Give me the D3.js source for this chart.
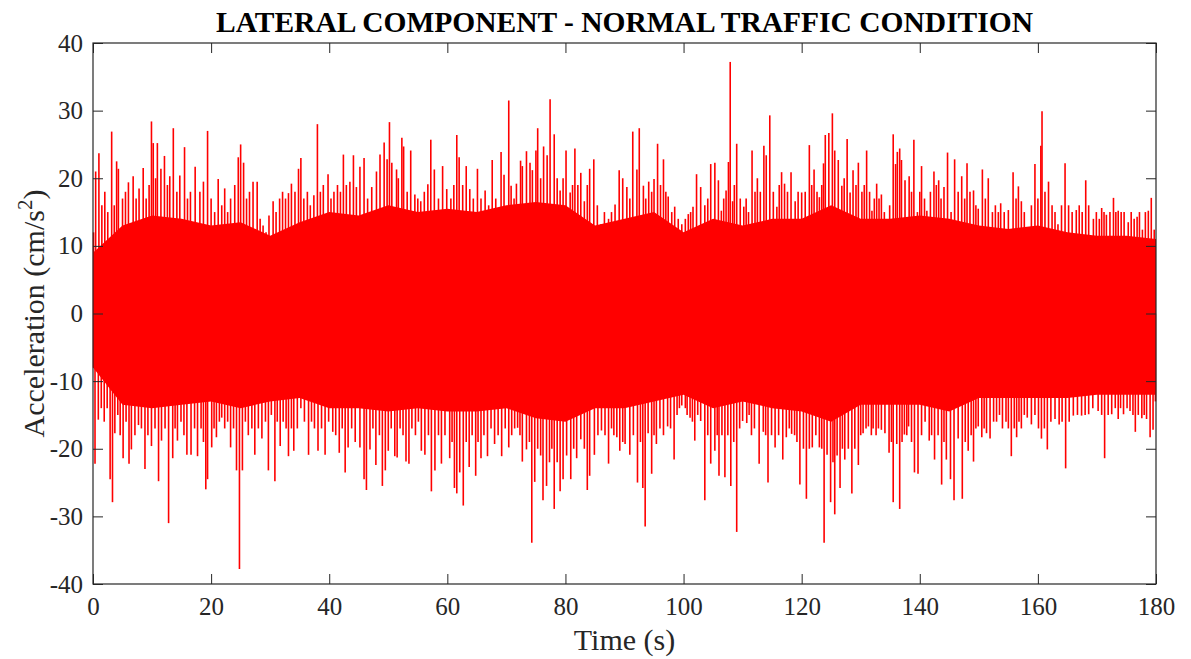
<!DOCTYPE html>
<html>
<head>
<meta charset="utf-8">
<script src="https://cdn.jsdelivr.net/npm/d3@7"></script>
<style>
  body { margin: 0; background: #fff; }
  svg { display: block; font-family: "Liberation Serif", "Times New Roman", serif; }
</style>
</head>
<body>
<div id="chart"></div>
<script>
// values
const xTicks = [0, 20, 40, 60, 80, 100, 120, 140, 160, 180];
const yTicks = [-40, -30, -20, -10, 0, 10, 20, 30, 40];

// solid body of the record, every 5 s
const bodyTimes = [0, 5, 10, 15, 20, 25, 30, 35, 40, 45, 50, 55, 60, 65, 70, 75, 80, 85, 90,
  95, 100, 105, 110, 115, 120, 125, 130, 135, 140, 145, 150, 155, 160, 165, 170, 175, 180];
const bodyTop = [9, 13, 14.5, 14, 13, 13.5, 11.5, 13.5, 15, 14.5, 16, 15, 15.5, 15, 16, 16.5, 16, 13, 14,
  15, 12, 14, 13, 14, 14, 16, 14, 14, 14.5, 14, 13, 12.5, 13, 12, 11.5, 11.5, 11];
const bodyBottom = [-8, -13.5, -14, -13.5, -13, -14, -13, -12.5, -14, -14, -14.5, -14, -14.5, -14.5, -14, -15.5, -16, -14, -14,
  -13, -12, -14, -13, -14, -14.5, -16, -13.5, -13.5, -13.5, -14.5, -12.5, -12.5, -12.5, -12.5, -12, -12, -12];

// positive peaks [t (s), acceleration]
const upperPeaks = [[0.1, 12], [0.45, 21], [1.0, 23.7], [1.5, 16], [2.0, 18], [2.5, 15], [3.16, 26.9], [3.6, 16], [4.0, 22.5], [4.3, 21.4], [5.0, 17], [5.5, 18], [6.0, 19.4], [6.8, 20.3], [7.3, 17], [7.8, 18.5], [8.5, 21.5], [9.0, 17], [9.5, 19], [9.9, 28.4], [10.2, 25.2], [10.6, 20], [10.9, 25.2], [11.5, 21.4], [12.1, 23.3], [12.6, 19], [13.0, 20.3], [13.6, 27.4], [14.2, 18], [14.7, 20.4], [15.5, 24.6], [16.0, 17], [16.5, 18], [17.3, 21.7], [18.1, 18], [18.7, 19.5], [19.4, 27], [20.0, 17], [20.6, 15], [21.2, 19.9], [21.8, 16], [22.3, 18.5], [22.8, 15], [23.3, 17], [24.0, 19], [24.6, 23.1], [25.0, 25], [25.5, 22.3], [26.0, 17], [26.5, 18], [27.1, 19.5], [27.8, 19.5], [28.3, 14], [28.8, 13], [29.3, 12], [29.8, 14.5], [30.5, 16.6], [31.0, 15], [31.6, 17], [32.1, 18], [32.6, 17], [33.1, 17.8], [33.6, 19.2], [34.2, 18], [34.8, 21.4], [35.2, 23], [35.7, 17], [36.3, 18], [36.8, 16], [37.4, 17.5], [38.0, 28], [38.5, 18], [39.0, 19], [39.8, 20.6], [40.3, 17], [40.8, 18], [41.4, 19], [41.9, 18], [42.4, 23.5], [42.9, 19], [43.5, 19.5], [44.1, 23.4], [44.6, 18.7], [45.2, 21.7], [45.9, 23], [46.5, 17], [47.2, 18.7], [48.0, 21], [48.6, 23.5], [49.3, 25.3], [49.8, 22.8], [50.2, 28.3], [50.6, 22.3], [51.4, 21.3], [51.7, 20], [52.3, 26], [52.6, 24.7], [53.2, 18], [53.8, 24.1], [54.5, 17.6], [55.0, 17], [55.5, 16.6], [56.1, 18], [56.7, 19.1], [57.2, 25.7], [57.8, 21.3], [58.5, 17], [59.2, 21.8], [59.9, 18.4], [60.6, 17], [61.1, 19], [61.6, 26.4], [62.0, 23.1], [62.6, 19], [63.2, 21.8], [63.8, 18.4], [64.4, 17], [65.1, 21.4], [65.7, 17], [66.4, 18.2], [67.0, 16], [67.6, 22.7], [68.2, 17], [68.7, 15], [69.1, 23.9], [69.6, 20.5], [70.4, 31.5], [70.8, 18.9], [71.3, 17], [71.7, 19.2], [72.4, 22.6], [72.7, 21.8], [73.4, 24], [74.0, 22.3], [74.4, 21.2], [75.0, 24.1], [75.3, 27.4], [75.8, 20], [76.3, 24.7], [76.9, 23.4], [77.4, 31.7], [78.1, 26.5], [78.6, 20], [79.1, 18.2], [79.6, 20], [80.1, 24.1], [80.8, 17.9], [81.2, 19], [81.6, 24.4], [82.1, 19], [82.6, 20.8], [83.2, 16.6], [83.7, 19], [84.1, 21.4], [84.8, 22.8], [85.4, 16], [86.0, 13.2], [86.6, 15], [87.3, 14], [87.8, 15], [88.4, 16.1], [89.1, 21.2], [89.7, 20], [90.4, 18.7], [90.9, 17], [91.4, 26.9], [92.1, 21.3], [92.5, 27.4], [93.2, 18.9], [93.6, 17], [94.1, 19.5], [94.6, 18], [95.0, 19.9], [95.6, 25.1], [96.1, 19], [96.6, 22.8], [97.0, 18], [97.4, 17.3], [98.0, 15], [98.5, 15.8], [99.1, 14], [99.7, 13.2], [100.3, 14], [100.8, 14.7], [101.2, 15], [101.6, 15.8], [102.2, 20.6], [102.9, 18.7], [103.6, 16], [104.1, 17], [104.6, 22.1], [105.3, 22.3], [105.9, 19.7], [106.4, 15.2], [106.8, 17], [107.2, 18.2], [107.6, 22.4], [107.9, 37.2], [108.3, 16.6], [108.6, 19], [109.0, 25.1], [109.6, 17], [110.2, 15.8], [110.6, 17], [111.0, 15], [111.6, 24.1], [112.1, 18], [112.5, 20], [113.0, 18], [113.6, 24.8], [114.0, 23.4], [114.6, 29.3], [115.2, 18], [115.8, 15.8], [116.2, 19], [116.6, 20.9], [117.1, 19.2], [117.6, 18], [118.2, 20.9], [118.9, 16.6], [119.4, 18], [120.0, 17.9], [120.6, 18], [121.3, 24.9], [121.7, 19], [122.1, 21.3], [122.6, 18], [123.0, 17.2], [123.4, 19], [123.7, 22.2], [124.0, 26.4], [124.6, 26.7], [125.2, 29.6], [125.6, 24.1], [126.2, 22.7], [126.8, 18.9], [127.2, 20], [127.7, 25.8], [128.2, 17.9], [128.7, 21.2], [129.2, 19], [129.6, 22.3], [130.2, 18], [130.6, 19], [131.0, 24.1], [131.5, 18], [131.9, 15.2], [132.3, 17], [132.7, 19.2], [133.1, 17], [133.5, 17.6], [134.0, 15], [134.4, 13], [134.9, 16], [135.5, 26.5], [135.9, 22.1], [136.2, 23.9], [136.6, 24.4], [136.9, 22.7], [137.5, 19.7], [138.2, 20.3], [138.6, 18], [139.0, 25.7], [139.6, 15], [140.0, 18], [140.3, 21.8], [140.8, 17], [141.2, 15.2], [141.8, 18], [142.4, 21], [142.8, 19], [143.2, 19.7], [143.6, 17], [144.1, 18.7], [144.7, 23.8], [145.3, 15], [145.9, 22.8], [146.5, 18], [147.1, 20.3], [147.6, 17], [148.0, 22.2], [148.5, 18], [149.1, 18.2], [149.5, 16], [149.9, 15.5], [150.6, 21.3], [151.1, 17], [151.6, 20], [152.3, 15], [152.8, 16], [153.3, 15], [153.7, 16.3], [154.3, 15], [155.0, 15.3], [155.8, 20.9], [156.3, 17], [156.7, 18.8], [157.2, 16.6], [157.7, 15], [158.4, 12.2], [158.9, 16], [159.5, 22.1], [160.0, 17], [160.5, 24.8], [160.7, 29.9], [161.2, 18], [161.8, 19.5], [162.4, 16], [162.9, 15], [163.4, 13.2], [164.0, 16], [164.6, 22.2], [165.2, 16], [165.8, 15], [166.5, 15.3], [167.0, 16], [167.5, 15], [168.1, 19.7], [168.6, 16], [169.4, 14], [169.9, 15], [170.4, 14], [170.8, 15.6], [171.2, 15], [171.6, 14.6], [172.2, 15], [172.8, 17.1], [173.2, 15], [173.6, 15.2], [174.1, 15], [174.6, 15], [175.3, 13.5], [175.8, 15], [176.3, 14], [176.8, 14.3], [177.2, 15], [177.7, 12.4], [178.2, 15], [178.7, 15.2], [179.2, 17.1], [179.7, 12.4]];

// negative peaks [t (s), acceleration]
const lowerPeaks = [[0.1, -8], [0.34, -22.2], [0.9, -15.7], [1.4, -14], [1.9, -16], [2.4, -14], [2.9, -24.5], [3.3, -27.9], [3.7, -17.7], [4.2, -15], [4.6, -18], [5.1, -21.4], [5.6, -16], [6.1, -22.2], [6.5, -20.1], [7.1, -18], [7.7, -16.5], [8.2, -17], [8.8, -23], [9.3, -18], [9.9, -19.6], [10.5, -17], [11.1, -24.8], [11.6, -18.8], [12.2, -17], [12.8, -31], [13.5, -21.4], [13.9, -17], [14.3, -18.8], [14.9, -16], [15.4, -18], [15.9, -20.9], [16.6, -20.9], [17.2, -17], [17.7, -21.1], [18.3, -17], [18.7, -19], [19.1, -26], [19.4, -24.5], [20.1, -19.8], [20.5, -17], [20.9, -18.3], [21.4, -16], [21.8, -15.4], [22.3, -17], [22.8, -16], [23.3, -19.8], [23.8, -17], [24.3, -23.2], [24.8, -37.8], [25.3, -23.2], [25.8, -16], [26.3, -18], [26.9, -17], [27.4, -20.9], [28.0, -17], [28.6, -18.5], [29.2, -16], [29.7, -23.2], [30.2, -15], [30.8, -24.8], [31.2, -16], [31.7, -19.6], [32.2, -16], [32.7, -17], [33.1, -21.1], [33.6, -17], [34.0, -20.3], [34.6, -17], [35.2, -14], [35.8, -16], [36.5, -20.9], [37.0, -16], [37.5, -17], [38.1, -20.3], [38.7, -17], [39.3, -20.9], [39.9, -16], [40.6, -17.5], [41.1, -18], [41.7, -20.6], [42.2, -17], [42.7, -23.5], [43.2, -19.8], [43.8, -17], [44.4, -19], [45.2, -19.8], [45.9, -24.5], [46.3, -26.1], [46.9, -20.1], [47.4, -17], [47.9, -22.4], [48.5, -18], [49.0, -25.5], [49.5, -23.2], [50.0, -20.3], [50.5, -17], [51.1, -21.1], [51.5, -21.3], [52.0, -17], [52.5, -18], [53.0, -21.9], [53.5, -22.2], [54.0, -17], [54.6, -18], [55.1, -16], [55.6, -20.3], [56.2, -20.9], [56.8, -18], [57.3, -26.3], [57.9, -23.2], [58.5, -18], [59.0, -22.2], [59.6, -18], [60.4, -21.4], [60.8, -19], [61.2, -25.8], [61.6, -26.6], [62.1, -23.5], [62.7, -28.4], [63.2, -19], [63.7, -22.7], [64.2, -18], [64.8, -24], [65.2, -19], [65.7, -21.4], [66.2, -18], [66.8, -21.1], [67.4, -17], [68.0, -19.3], [68.6, -18], [69.2, -21.1], [69.8, -17], [70.4, -19.8], [70.9, -18], [71.4, -17], [71.9, -16.9], [72.3, -18], [72.7, -21.9], [73.4, -20.1], [73.9, -19], [74.3, -33.9], [74.8, -24.9], [75.3, -20], [75.8, -21], [76.2, -27.6], [76.8, -25.5], [77.3, -22], [77.7, -20], [78.1, -28.9], [78.6, -22], [79.1, -26.3], [79.6, -24.5], [80.2, -21], [80.9, -24.5], [81.4, -20], [81.9, -21.4], [82.6, -18.6], [83.2, -20], [83.7, -26.1], [84.1, -24], [84.9, -20.9], [85.5, -18], [86.1, -17.3], [86.7, -18], [87.3, -22.2], [87.8, -17], [88.2, -18], [88.7, -18.3], [89.2, -20.3], [89.7, -19], [90.1, -19.3], [90.9, -20.9], [91.5, -18], [92.2, -25], [92.7, -19], [93.1, -25.8], [93.5, -31.5], [94.0, -17.7], [94.6, -23.7], [95.0, -18], [95.4, -19.3], [96.0, -17], [96.6, -18], [97.3, -16.7], [97.8, -17], [98.4, -21.6], [98.9, -15], [99.3, -14], [99.7, -13.6], [100.3, -14], [100.6, -15], [101.1, -15.4], [101.5, -16], [101.9, -18.8], [102.4, -15], [102.9, -15.9], [103.6, -27.6], [104.1, -18], [104.6, -22.2], [105.3, -20.3], [105.7, -18], [106.0, -24], [106.5, -18], [107.0, -24.2], [107.5, -18], [108.0, -25.5], [108.5, -19], [109.0, -32.3], [109.5, -17], [110.0, -15.9], [110.7, -16.2], [111.1, -15], [111.5, -18], [112.0, -17], [112.8, -22.2], [113.5, -17.5], [113.9, -18], [114.3, -25], [114.9, -18], [115.5, -19.8], [116.1, -18], [116.8, -21.6], [117.4, -18.3], [117.9, -17], [118.3, -17.8], [118.8, -18], [119.2, -19], [119.7, -25.3], [120.3, -20], [120.8, -27.4], [121.3, -20], [121.8, -19.8], [122.4, -18], [123.0, -19.8], [123.4, -20], [123.8, -33.9], [124.3, -20.9], [124.9, -27.9], [125.3, -22], [125.6, -29.7], [126.0, -21], [126.5, -25.8], [126.9, -20], [127.3, -21.6], [127.9, -20], [128.5, -26.6], [129.0, -20], [129.6, -22.4], [130.0, -18], [130.4, -17.7], [130.9, -17], [131.3, -16.7], [131.8, -18], [132.1, -17], [132.6, -18], [133.0, -17], [133.5, -17.2], [134.1, -17.7], [134.8, -20.6], [135.2, -19], [135.5, -27.9], [136.1, -19.3], [136.6, -28.9], [137.0, -19], [137.4, -17.9], [137.8, -18], [138.1, -16.7], [138.6, -19], [139.1, -23.5], [139.7, -23.7], [140.3, -18], [140.9, -16], [141.6, -18.8], [142.0, -18], [142.5, -21.6], [143.1, -18], [143.7, -25.3], [144.1, -19], [144.5, -21.6], [145.2, -24.5], [145.8, -27.6], [146.5, -18.5], [147.2, -27.4], [147.7, -19], [148.2, -20.3], [148.7, -18], [149.1, -21.9], [149.5, -17], [149.9, -16.7], [150.5, -18.3], [150.9, -17], [151.3, -17.7], [151.9, -18.5], [152.5, -16], [153.0, -16], [153.5, -15], [154.0, -17], [154.6, -16], [155.0, -17], [155.5, -21.1], [156.0, -17], [156.4, -18.3], [156.8, -16], [157.2, -17], [157.7, -15], [158.2, -15.4], [158.9, -16.4], [159.5, -15], [160.1, -17], [160.6, -18.5], [161.1, -17], [161.6, -20.1], [162.2, -16], [162.9, -15.6], [163.6, -16.4], [164.1, -16], [164.7, -22.9], [165.3, -16], [166.0, -15.1], [166.7, -15], [167.4, -15.1], [168.0, -15], [168.6, -14.9], [169.3, -14], [170.2, -14.4], [170.8, -15], [171.3, -21.4], [171.9, -15], [172.5, -14.9], [173.1, -14], [173.6, -15.6], [174.0, -14], [174.5, -14.9], [175.1, -14], [175.6, -14.4], [176.1, -15], [176.5, -17.5], [177.0, -15], [177.6, -15.5], [178.0, -15], [178.4, -15.6], [179.0, -18.3], [179.5, -17.2], [179.9, -13]];

const width = 1191,
  height = 659;
const margin = { top: 43, right: 35, bottom: 75, left: 93 },
  innerWidth = width - margin.left - margin.right,
  innerHeight = height - margin.top - margin.bottom;

const axisColor = "#262626";
const lineColor = "#ff0000";

const svg = d3
  .select("#chart")
  .append("svg")
  .attr("width", width)
  .attr("height", height);

const xScale = d3.scaleLinear().domain([0, 180]).range([0, innerWidth]);
const yScale = d3.scaleLinear().domain([-40, 40]).range([innerHeight, 0]);

const g = svg
  .append("g")
  .attr("transform", `translate(${margin.left},${margin.top})`);

// signal
const plot = g.append("g");

const body = bodyTimes.map((t, i) => ({ t, hi: bodyTop[i], lo: bodyBottom[i] }));

plot
  .append("path")
  .datum(body)
  .attr("fill", lineColor)
  .attr(
    "d",
    d3
      .area()
      .x((d) => xScale(d.t))
      .y0((d) => yScale(d.lo))
      .y1((d) => yScale(d.hi))
  );

const spikes = upperPeaks.concat(lowerPeaks);

plot
  .selectAll("line.spike")
  .data(spikes)
  .join("line")
  .attr("class", "spike")
  .attr("x1", (d) => xScale(d[0]))
  .attr("x2", (d) => xScale(d[0]))
  .attr("y1", yScale(0))
  .attr("y2", (d) => yScale(d[1]))
  .attr("stroke", lineColor)
  .attr("stroke-width", 1.6);

// axes, ticks on all four sides pointing inward
const fmt = (d) => String(d);
const xAxis = g
  .append("g")
  .attr("transform", `translate(0,${innerHeight})`)
  .call(d3.axisBottom(xScale).tickValues(xTicks).tickSize(-10).tickPadding(13).tickFormat(fmt));
const xAxisTop = g
  .append("g")
  .call(d3.axisTop(xScale).tickValues(xTicks).tickSize(-10).tickFormat(""));
const yAxis = g
  .append("g")
  .call(d3.axisLeft(yScale).tickValues(yTicks).tickSize(-10).tickPadding(10).tickFormat(fmt));
const yAxisRight = g
  .append("g")
  .attr("transform", `translate(${innerWidth},0)`)
  .call(d3.axisRight(yScale).tickValues(yTicks).tickSize(-10).tickFormat(""));

// mirrored axes carry ticks only
xAxisTop.selectAll("text").remove();
yAxisRight.selectAll("text").remove();

[xAxis, xAxisTop, yAxis, yAxisRight].forEach((a) => {
  a.select(".domain").remove();
  a.selectAll("line").attr("stroke", axisColor).attr("stroke-width", 1);
  a.selectAll("text")
    .attr("fill", axisColor)
    .style("font-family", "Liberation Serif, serif")
    .style("font-size", "25px");
});

g.append("rect")
  .attr("width", innerWidth)
  .attr("height", innerHeight)
  .attr("fill", "none")
  .attr("stroke", axisColor)
  .attr("stroke-width", 1.2);

// labels
svg
  .append("text")
  .attr("x", margin.left + innerWidth / 2)
  .attr("y", 32)
  .attr("text-anchor", "middle")
  .attr("fill", "#000")
  .style("font-size", "29.5px")
  .style("font-weight", "bold")
  .text("LATERAL COMPONENT - NORMAL TRAFFIC CONDITION");

svg
  .append("text")
  .attr("x", margin.left + innerWidth / 2)
  .attr("y", 650)
  .attr("text-anchor", "middle")
  .attr("fill", axisColor)
  .style("font-size", "30px")
  .text("Time (s)");

const yLabel = svg
  .append("text")
  .attr("transform", `translate(44,${margin.top + innerHeight / 2}) rotate(-90)`)
  .attr("text-anchor", "middle")
  .attr("fill", axisColor)
  .style("font-size", "30px");
yLabel.append("tspan").text("Acceleration (cm/s");
yLabel.append("tspan").attr("dy", -12).style("font-size", "21px").text("2");
yLabel.append("tspan").attr("dy", 12).text(")");
</script>
</body>
</html>
